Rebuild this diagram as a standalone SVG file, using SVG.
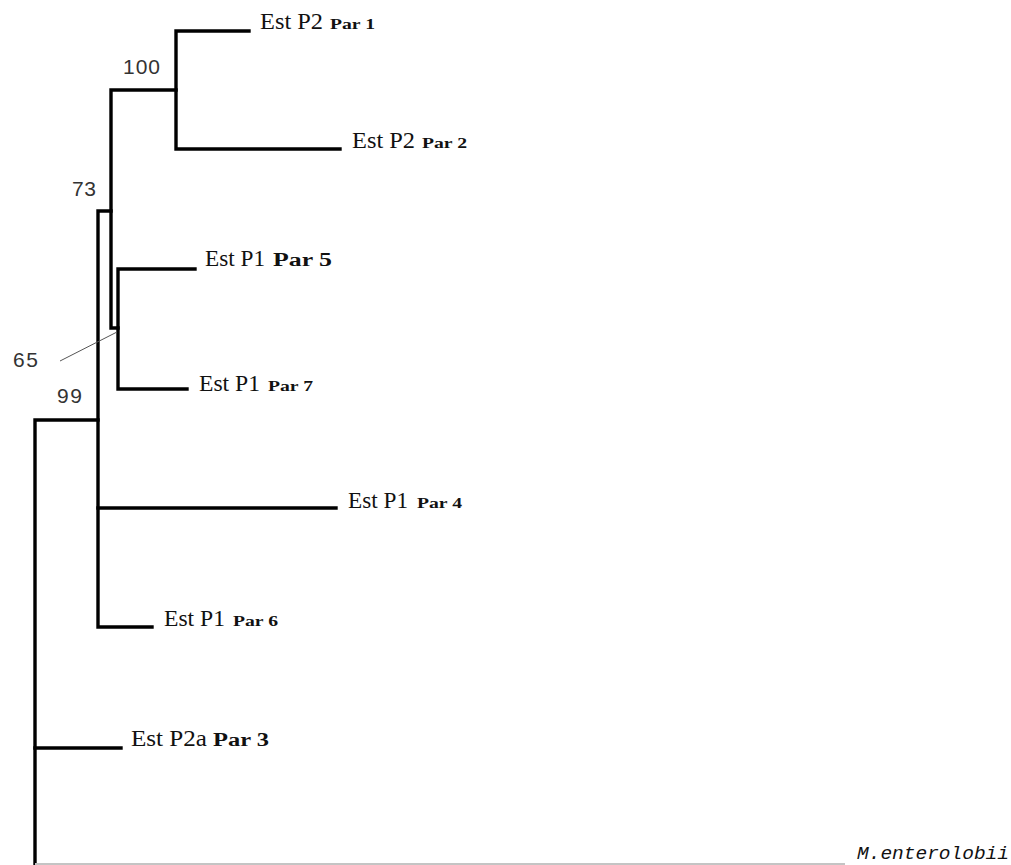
<svg xmlns="http://www.w3.org/2000/svg" width="1011" height="865" viewBox="0 0 1011 865">
<style>
.br{fill:none;stroke:#000;stroke-width:3.4;stroke-linecap:square;stroke-linejoin:miter}
.lbl{font-family:"Liberation Serif","Times New Roman",serif;font-size:23px;fill:#111}
.bs{font-family:"Liberation Serif","Times New Roman",serif;font-size:15px;font-weight:bold;fill:#111}
.bl{font-family:"Liberation Serif","Times New Roman",serif;font-size:18px;font-weight:bold;fill:#111}
.num{font-family:"Liberation Sans",Arial,sans-serif;font-size:21px;fill:#333}
.sp{font-family:"Liberation Mono","Courier New",monospace;font-size:19px;font-style:italic;fill:#111}
</style>
<rect width="1011" height="865" fill="#fff"/>
<g id="connectors">
<path class="br" d="M249,31 H176 V149 H340"/>
<path class="br" d="M176,90 H111 V328 H118"/>
<path class="br" d="M195,269 H118 V389 H187"/>
<path class="br" d="M111,211 H98 V627 H152"/>
<path class="br" d="M98,508 H336"/>
<path class="br" d="M98,420 H35 V870"/>
<path class="br" d="M35,748 H121"/>
<line x1="35" y1="864" x2="845" y2="864" stroke="#c4c4c4" stroke-width="2"/>
<line x1="60" y1="361" x2="117" y2="332" stroke="#555" stroke-width="1"/>
</g>
<g id="node-par1"><text class="lbl" x="260" y="29" textLength="63" lengthAdjust="spacingAndGlyphs">Est P2</text><text class="bs" x="330" y="29" textLength="45" lengthAdjust="spacingAndGlyphs">Par 1</text></g>
<g id="node-par2"><text class="lbl" x="352" y="148" textLength="63" lengthAdjust="spacingAndGlyphs">Est P2</text><text class="bs" x="422" y="148" textLength="45" lengthAdjust="spacingAndGlyphs">Par 2</text></g>
<g id="node-par5"><text class="lbl" x="205" y="266" textLength="60" lengthAdjust="spacingAndGlyphs">Est P1</text><text class="bl" x="273" y="266" textLength="59" lengthAdjust="spacingAndGlyphs">Par 5</text></g>
<g id="node-par7"><text class="lbl" x="199" y="391" textLength="61" lengthAdjust="spacingAndGlyphs">Est P1</text><text class="bs" x="268" y="391" textLength="45" lengthAdjust="spacingAndGlyphs">Par 7</text></g>
<g id="node-par4"><text class="lbl" x="348" y="508" textLength="60" lengthAdjust="spacingAndGlyphs">Est P1</text><text class="bs" x="417" y="508" textLength="45" lengthAdjust="spacingAndGlyphs">Par 4</text></g>
<g id="node-par6"><text class="lbl" x="164" y="626" textLength="61" lengthAdjust="spacingAndGlyphs">Est P1</text><text class="bs" x="233" y="626" textLength="45" lengthAdjust="spacingAndGlyphs">Par 6</text></g>
<g id="node-par3"><text class="lbl" x="131" y="746" textLength="76" lengthAdjust="spacingAndGlyphs">Est P2a</text><text class="bl" x="213" y="746" textLength="56" lengthAdjust="spacingAndGlyphs">Par 3</text></g>
<g id="node-menterolobii"><text class="sp" x="857" y="859" textLength="152" lengthAdjust="spacingAndGlyphs">M.enterolobii</text></g>
<g id="support-values">
<text class="num" x="123" y="74" textLength="37">100</text>
<text class="num" x="72" y="196" textLength="24">73</text>
<text class="num" x="13" y="367" textLength="25">65</text>
<text class="num" x="57" y="403" textLength="25">99</text>
</g>
</svg>
